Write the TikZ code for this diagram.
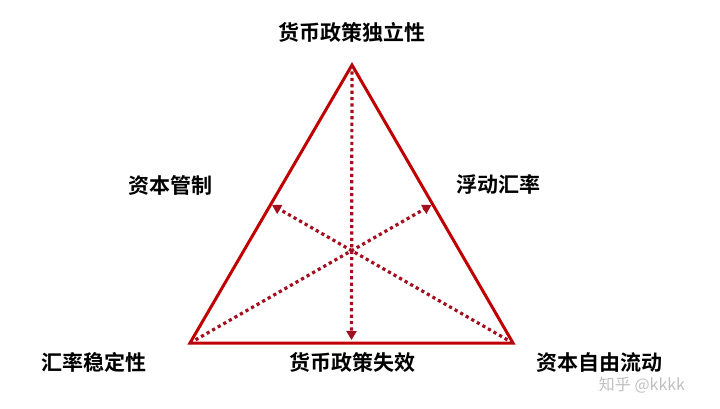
\documentclass[tikz,border=0pt]{standalone}
\usepackage{fontspec}
\setmainfont{Noto Sans CJK SC}
\newfontfamily\cjkbold{Noto Sans CJK SC Bold}
\definecolor{tridred}{RGB}{192,0,0}
\definecolor{dotred}{RGB}{165,14,30}
\usetikzlibrary{arrows.meta,calc}

\begin{document}
\begin{tikzpicture}[x=1pt, y=1pt,
    lbl/.style={font=\cjkbold\fontsize{21}{21}\selectfont, text=black, inner sep=0pt},
    side/.style={draw=tridred, line width=3pt, line join=miter},
    median/.style={draw=dotred, line width=3.2pt, dash pattern=on 3.2pt off 3.2pt,
                   -{Triangle[length=9pt, width=10pt]}}
  ]
    \useasboundingbox (0,0) rectangle (720,408);

    % Triangle corners
    \coordinate (top)   at (352,343);
    \coordinate (left)  at (190,65);
    \coordinate (right) at (513,65);

    % Midpoints of the sides
    \coordinate (midL) at ($(top)!0.5!(left)$);
    \coordinate (midR) at ($(top)!0.5!(right)$);
    \coordinate (midB) at ($(left)!0.5!(right)$);

    % Triangle
    \draw[side] (top) -- (left) -- (right) -- cycle;

    % Dotted medians
    \draw[median] (top)   -- ($(midB)+(0,3)$);
    \draw[median] (left)  -- ($(midR)+(-1,-1)$);
    \draw[median] (right) -- ($(midL)+(1,-1)$);

    % Labels
    \node[lbl] (indep)  at (352,376) {货币政策独立性};
    \node[lbl] (ctrl)   at (170,223) {资本管制};
    \node[lbl] (float)  at (498,224) {浮动汇率};
    \node[lbl] (stable) at (94,46)   {汇率稳定性};
    \node[lbl] (fail)   at (352,46)  {货币政策失效};
    \node[lbl] (flow)   at (599,45)  {资本自由流动};

    % Watermark
    \node[font=\fontsize{16}{16}\selectfont, text=black!25, inner sep=0pt] (mark) at (642,23) {知乎 @kkkk};
\end{tikzpicture}
\end{document}
